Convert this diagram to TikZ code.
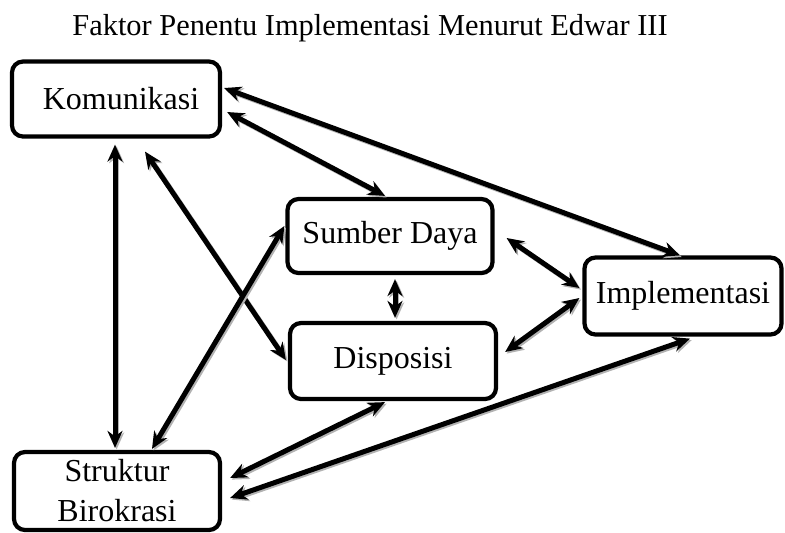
\documentclass[tikz,border=0pt,12pt]{standalone}
\usepackage{fontspec}
\setmainfont{Liberation Serif}
\usetikzlibrary{arrows.meta}
\begin{document}
\begin{tikzpicture}[x=0.5pt,y=-0.5pt,font=\fontsize{16}{19}\selectfont,
  faktor/.style={draw,line width=2.1pt,rounded corners=5.5pt,fill=white,align=center,inner sep=0pt},
  link/.style={line width=2.5pt,{Stealth[length=8.5pt,width=7.5pt]}-{Stealth[length=8.5pt,width=7.5pt]},
    preaction={draw=black!30,line width=2.5pt,transform canvas={shift={(0.8pt,-0.8pt)}}}}]
\useasboundingbox (0,0) rectangle (785,532);
\node[font=\fontsize{15.2}{18}\selectfont] (judul) at (370,28) {Faktor Penentu Implementasi Menurut Edwar III};
\node[faktor,minimum width=104pt,minimum height=37.5pt] (kom) at (116,99) {\hspace*{5pt}Komunikasi};
\node[faktor,minimum width=102.5pt,minimum height=37pt] (sd) at (390,236) {Sumber Daya};
\node[faktor,minimum width=103pt,minimum height=38pt] (disp) at (393,361) {Disposisi};
\node[faktor,minimum width=98.5pt,minimum height=38.5pt] (imp) at (683,296) {Implementasi};
\node[faktor,minimum width=103pt,minimum height=39pt] (sb) at (117,491) {Struktur\\[1pt]Birokrasi};
\draw[link] ([shift={(2,-11)}]kom.east) -- ([shift={(-3,0)}]imp.north);
\draw[link] ([shift={(5,13)}]kom.east) -- ([shift={(-5,-1)}]sd.north);
\draw[link] ([shift={(29,13)}]kom.south) -- ([shift={(-2,-1)}]disp.west);
\draw[link] ([shift={(-1,6)}]kom.south) -- ([shift={(-2,-2)}]sb.north);
\draw[link] ([shift={(35,-1)}]sb.north) -- ([shift={(-1,-10)}]sd.west);
\draw[link] ([shift={(5,4)}]sd.south) -- ([shift={(2,-3)}]disp.north);
\draw[link] ([shift={(12,2)}]sd.east) -- ([shift={(-3,-8)}]imp.west);
\draw[link] ([shift={(7,-9)}]disp.east) -- ([shift={(-3,2)}]imp.west);
\draw[link] ([shift={(8,-13)}]sb.east) -- ([shift={(-8,1)}]disp.south);
\draw[link] ([shift={(8,7)}]sb.east) -- ([shift={(7,2)}]imp.south);
\end{tikzpicture}
\end{document}
